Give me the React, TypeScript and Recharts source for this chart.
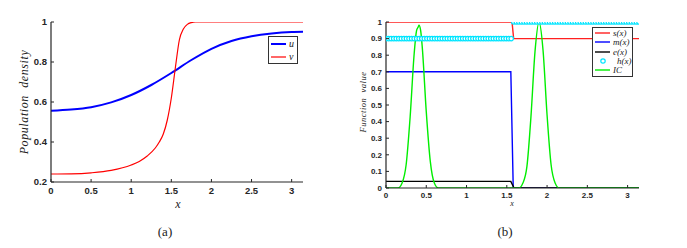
import { LineChart, Line, XAxis, YAxis } from "recharts";

const PI = 3.1416;
const xTicks = [0, 0.5, 1, 1.5, 2, 2.5, 3];
const leftYTicks = [0.2, 0.4, 0.6, 0.8, 1];
const rightYTicks = [0, 0.1, 0.2, 0.3, 0.4, 0.5, 0.6, 0.7, 0.8, 0.9, 1];

// (a) population densities
const uX = [0, 0.25, 0.5, 0.75, 1, 1.25, 1.5, 1.75, 2, 2.25, 2.5, 2.75, 3, 3.1416];
const uY = [0.556, 0.562, 0.574, 0.598, 0.635, 0.685, 0.745, 0.81, 0.866, 0.905, 0.929, 0.943, 0.95, 0.951];
const vX = [0, 0.25, 0.5, 0.75, 1, 1.1, 1.2, 1.3, 1.35, 1.4, 1.45, 1.5, 1.55, 1.6, 1.65, 1.7, 1.75, 1.8, 2, 2.5, 3, 3.1416];
const vY = [0.24, 0.241, 0.246, 0.258, 0.285, 0.303, 0.33, 0.37, 0.4, 0.44, 0.51, 0.62, 0.77, 0.91, 0.965, 0.988, 0.997, 1, 1, 1, 1, 1];

// (b) function values
const sX = [0, 1.565, 1.585, 3.1416];
const sY = [1, 1, 0.9, 0.9];
const mX = [0, 1.55, 1.58, 3.1416];
const mY = [0.7, 0.7, 0, 0];
const eX = [0, 1.55, 1.59, 3.1416];
const eY = [0.04, 0.04, 0, 0];
const hSplit = 1.57;
const hLow = 0.9;
const hHigh = 1;
const hCount = 100;
const icX = [0, 0.15, 0.2, 0.25, 0.3, 0.35, 0.38, 0.4, 0.41, 0.43, 0.45, 0.5, 0.55, 0.6, 0.65, 1.6, 1.65, 1.7, 1.75, 1.8, 1.85, 1.9, 1.95, 2, 2.05, 2.1, 2.15, 3.1416];
const icY = [0, 0, 0.03, 0.14, 0.43, 0.81, 0.95, 0.97, 0.98, 0.95, 0.85, 0.46, 0.16, 0.03, 0, 0, 0, 0.03, 0.13, 0.43, 0.82, 1, 0.83, 0.44, 0.14, 0.03, 0, 0];

const zip = (xs: number[], ys: number[]) => xs.map((x, i) => ({ x, y: ys[i] }));
// h(x) is drawn as markers on the solver grid
const hData = Array.from({ length: hCount }, (_, i) => {
  const x = (i * PI) / (hCount - 1);
  return { x, y: x < hSplit ? hLow : hHigh };
});

const AX = "#262626";
const tickFont = "'Liberation Sans', Arial, sans-serif";

const bottomTick = (fs: number) => (p: any) => (
  <g>
    <line x1={p.x} y1={p.y} x2={p.x} y2={p.y - 3} stroke={AX} />
    <text x={p.x} y={p.y + fs + 2} textAnchor="middle" fontSize={fs} fontWeight="bold" fill={AX} fontFamily={tickFont}>
      {p.payload.value}
    </text>
  </g>
);
const topTick = (p: any) => <line x1={p.x} y1={p.y} x2={p.x} y2={p.y + 3} stroke={AX} />;
const leftTick = (fs: number) => (p: any) => (
  <g>
    <line x1={p.x} y1={p.y} x2={p.x + 3} y2={p.y} stroke={AX} />
    <text x={p.x - 4} y={p.y + fs * 0.35} textAnchor="end" fontSize={fs} fontWeight="bold" fill={AX} fontFamily={tickFont}>
      {p.payload.value}
    </text>
  </g>
);
const rightTick = (p: any) => <line x1={p.x} y1={p.y} x2={p.x - 3} y2={p.y} stroke={AX} />;

const axisLine = { stroke: AX, strokeWidth: 1.2 };
const serif = "'Liberation Serif', 'Times New Roman', serif";

export default function App() {
  const label = (style: any, text: string) => (
    <div style={{ position: "absolute", fontFamily: serif, fontStyle: "italic", color: "#222", whiteSpace: "pre", ...style }}>{text}</div>
  );
  return (
    <div style={{ position: "absolute", left: 0, top: 0, width: 687, height: 248, background: "#fff" }}>
      {/* (a) */}
      <div style={{ position: "absolute", left: 0, top: 0 }}>
        <LineChart width={340} height={215} margin={{ top: 22, right: 37, bottom: 13, left: 21 }}>
          <XAxis dataKey="x" type="number" domain={[0, PI]} ticks={xTicks} interval={0} allowDataOverflow
            tickSize={0} tickMargin={0} tickLine={false} axisLine={axisLine} tick={bottomTick(9.5)} height={20} />
          <XAxis xAxisId="t" orientation="top" dataKey="x" type="number" domain={[0, PI]} ticks={xTicks} interval={0}
            tickSize={0} tickMargin={0} tickLine={false} axisLine={axisLine} tick={topTick} height={0} />
          <YAxis type="number" domain={[0.2, 1]} ticks={leftYTicks} interval={0} allowDataOverflow
            tickSize={0} tickMargin={0} tickLine={false} axisLine={axisLine} tick={leftTick(9.5)} width={30} />
          <YAxis yAxisId="r" orientation="right" type="number" domain={[0.2, 1]} ticks={leftYTicks} interval={0}
            tickSize={0} tickMargin={0} tickLine={false} axisLine={axisLine} tick={rightTick} width={0} />
          <Line data={zip(uX, uY)} dataKey="y" type="monotone" stroke="#0000ff" strokeWidth={2} dot={false} isAnimationActive={false} />
          <Line data={zip(vX, vY)} dataKey="y" type="monotone" stroke="#ff0000" strokeWidth={1.2} dot={false} isAnimationActive={false} />
        </LineChart>
      </div>
      {label({ left: 24, top: 102, fontSize: 12, transform: "translate(-50%,-50%) rotate(-90deg)", letterSpacing: 0.6 }, "Population  density")}
      {label({ left: 178, top: 204, fontSize: 12, transform: "translate(-50%,-50%)" }, "x")}
      <div style={{ position: "absolute", left: 268, top: 36, width: 30, height: 28, border: "1px solid #333", background: "#fff", boxSizing: "border-box" }}>
        <svg width={30} height={28} style={{ position: "absolute", left: -1, top: -1 }}>
          <line x1={3} y1={8} x2={18} y2={8} stroke="#0000ff" strokeWidth={2} />
          <line x1={3} y1={21} x2={18} y2={21} stroke="#ff0000" strokeWidth={1.2} />
          <text x={21} y={11} fontSize={10} fontStyle="italic" fontFamily={serif} fill="#222">u</text>
          <text x={21} y={24} fontSize={10} fontStyle="italic" fontFamily={serif} fill="#222">v</text>
        </svg>
      </div>
      {label({ left: 165, top: 232, fontSize: 13, fontStyle: "normal", transform: "translate(-50%,-50%)" }, "(a)")}

      {/* (b) */}
      <div style={{ position: "absolute", left: 340, top: 0 }}>
        <LineChart width={347} height={215} margin={{ top: 22, right: 48, bottom: 9, left: 16 }}>
          <XAxis dataKey="x" type="number" domain={[0, PI]} ticks={xTicks} interval={0} allowDataOverflow
            tickSize={0} tickMargin={0} tickLine={false} axisLine={axisLine} tick={bottomTick(8)} height={18} />
          <XAxis xAxisId="t" orientation="top" dataKey="x" type="number" domain={[0, PI]} ticks={xTicks} interval={0}
            tickSize={0} tickMargin={0} tickLine={false} axisLine={axisLine} tick={topTick} height={0} />
          <YAxis type="number" domain={[0, 1]} ticks={rightYTicks} interval={0} allowDataOverflow
            tickSize={0} tickMargin={0} tickLine={false} axisLine={axisLine} tick={leftTick(8)} width={30} />
          <YAxis yAxisId="r" orientation="right" type="number" domain={[0, 1]} ticks={rightYTicks} interval={0}
            tickSize={0} tickMargin={0} tickLine={false} axisLine={axisLine} tick={rightTick} width={0} />
          <Line data={zip(sX, sY)} dataKey="y" type="linear" stroke="#ff2020" strokeWidth={1.4} dot={false} isAnimationActive={false} />
          <Line data={zip(mX, mY)} dataKey="y" type="linear" stroke="#0000ff" strokeWidth={1.4} dot={false} isAnimationActive={false} />
          <Line data={zip(eX, eY)} dataKey="y" type="linear" stroke="#000" strokeWidth={1.4} dot={false} isAnimationActive={false} />
          <Line data={hData} dataKey="y" type="linear" stroke="none" strokeWidth={0} isAnimationActive={false}
            dot={{ r: 2.2, stroke: "#00e5ff", strokeWidth: 1.2, fill: "#fff" }} />
          <Line data={zip(icX, icY)} dataKey="y" type="monotone" stroke="#00ee00" strokeWidth={1.4} dot={false} isAnimationActive={false} />
        </LineChart>
      </div>
      {label({ left: 363, top: 102, fontSize: 8.5, transform: "translate(-50%,-50%) rotate(-90deg)", letterSpacing: 0.5 }, "Function  value")}
      {label({ left: 512, top: 203, fontSize: 8, transform: "translate(-50%,-50%)" }, "x")}
      <div style={{ position: "absolute", left: 592, top: 27, width: 41, height: 50, border: "1px solid #333", background: "#fff", boxSizing: "border-box" }}>
        <svg width={41} height={50} style={{ position: "absolute", left: -1, top: -1 }}>
          <line x1={3} y1={6} x2={18} y2={6} stroke="#ff2020" strokeWidth={1.4} />
          <line x1={3} y1={15} x2={18} y2={15} stroke="#0000ff" strokeWidth={1.4} />
          <line x1={3} y1={25} x2={18} y2={25} stroke="#000" strokeWidth={1.4} />
          <circle cx={11} cy={34} r={2.2} stroke="#00e5ff" strokeWidth={1.2} fill="#fff" />
          <line x1={3} y1={43} x2={18} y2={43} stroke="#00ee00" strokeWidth={1.4} />
          {["s(x)", "m(x)", "e(x)", "h(x)", "IC"].map((t, i) => (
            <text key={t} x={i === 3 ? 25 : 21} y={9 + [0, 9.3, 19, 28, 37][i]} fontSize={9} fontStyle="italic" fontFamily={serif} fill="#222">{t}</text>
          ))}
        </svg>
      </div>
      {label({ left: 505, top: 232, fontSize: 13, fontStyle: "normal", transform: "translate(-50%,-50%)" }, "(b)")}
    </div>
  );
}
